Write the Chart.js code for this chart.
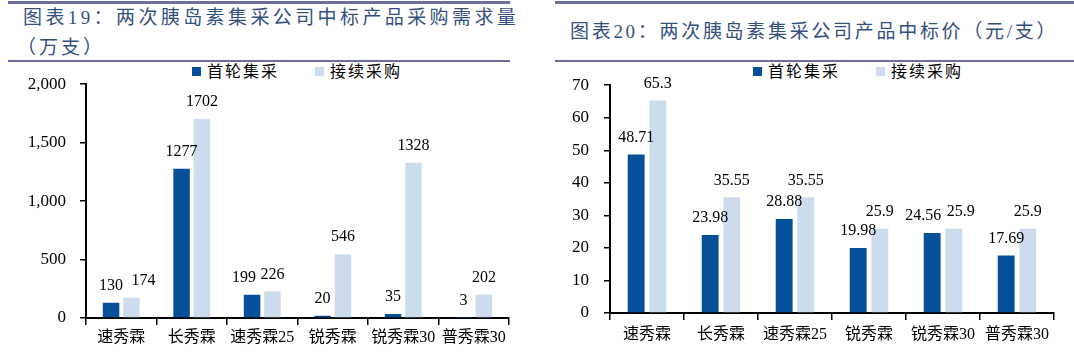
<!DOCTYPE html>
<html>
<head>
<meta charset="utf-8">
<script src="https://cdn.jsdelivr.net/npm/chart.js@4"></script>
<style>
  html,body{margin:0;padding:0;background:#fff;}
  body{width:1074px;height:356px;position:relative;overflow:hidden;font-family:"Liberation Serif","Noto Sans CJK SC",serif;}
  .rule{position:absolute;background:#6e6e9e;}
  .title{position:absolute;color:#34507e;font-size:19px;white-space:nowrap;line-height:1;}
  .legend{position:absolute;font-size:16px;letter-spacing:2px;white-space:nowrap;line-height:1;color:#000;}
  .legend span.box{display:inline-block;width:9px;height:9px;vertical-align:middle;margin-right:6px;position:relative;top:-2px;}
  .chartbox{position:absolute;}
</style>
</head>
<body>
<div class="rule" style="left:8px;top:1px;width:502px;height:3px;"></div>
<div class="rule" style="left:8px;top:60px;width:502px;height:2px;"></div>
<div class="rule" style="left:555px;top:1px;width:519px;height:3px;"></div>
<div class="rule" style="left:555px;top:60px;width:519px;height:2px;"></div>

<div class="title" style="left:23px;top:8px;letter-spacing:3.4px;">图表19：两次胰岛素集采公司中标产品采购需求量</div>
<div class="title" style="left:17px;top:38px;letter-spacing:3px;">（万支）</div>
<div class="title" style="left:570px;top:22px;letter-spacing:2.7px;">图表20：两次胰岛素集采公司产品中标价（元/支）</div>

<div class="legend" id="legL" style="left:192px;top:64px;"></div>
<div class="legend" id="legR" style="left:753px;top:64px;"></div>

<div class="chartbox" style="left:0px;top:60px;width:520px;height:296px;"><canvas id="c1"></canvas></div>
<div class="chartbox" style="left:545px;top:60px;width:529px;height:296px;"><canvas id="c2"></canvas></div>

<script>
const categories = ['速秀霖','长秀霖','速秀霖25','锐秀霖','锐秀霖30','普秀霖30'];
const seriesNames = ['首轮集采','接续采购'];
const demandFirst = [130, 1277, 199, 20, 35, 3];
const demandRenewal = [174, 1702, 226, 546, 1328, 202];
const priceFirst = [48.71, 23.98, 28.88, 19.98, 24.56, 17.69];
const priceRenewal = [65.3, 35.55, 35.55, 25.9, 25.9, 25.9];
const demandTicks = [0, 500, 1000, 1500, 2000];
const priceTicks = [0, 10, 20, 30, 40, 50, 60, 70];

const COLORS = ['#06509a', '#cddcec'];
const SERIF = '"Liberation Serif", "Noto Sans CJK SC", serif';

function buildLegend(id){
  const el = document.getElementById(id);
  el.innerHTML = seriesNames.map((n,i)=>
    `<span style="margin-right:${i===0?36:0}px"><span class="box" style="background:${COLORS[i]}"></span>${n}</span>`).join('');
}
buildLegend('legL');
buildLegend('legR');

const valueLabels = {
  id: 'valueLabels',
  afterDatasetsDraw(chart, args, opts){
    const ctx = chart.ctx;
    ctx.save();
    ctx.font = opts.font;
    ctx.fillStyle = '#000';
    ctx.textAlign = 'center';
    ctx.textBaseline = 'middle';
    chart.data.datasets.forEach((ds, di) => {
      chart.getDatasetMeta(di).data.forEach((bar, i) => {
        const sh = (opts.shifts || []).find(s => s.d === di && s.i === i);
        const dx = sh ? sh.dx : 0;
        ctx.fillText(String(ds.data[i]), bar.x + dx, bar.y - opts.offset);
      });
    });
    ctx.restore();
  }
};

function makeChart(canvasId, first, renewal, ticks, cfg){
  const maxV = ticks[ticks.length-1];
  const step = ticks[1] - ticks[0];
  return new Chart(document.getElementById(canvasId), {
    type: 'bar',
    data: {
      labels: categories,
      datasets: [
        {label: seriesNames[0], data: first, backgroundColor: COLORS[0], borderWidth: 0},
        {label: seriesNames[1], data: renewal, backgroundColor: COLORS[1], borderWidth: 0}
      ]
    },
    options: {
      responsive: true,
      maintainAspectRatio: false,
      animation: false,
      categoryPercentage: cfg.catPct,
      barPercentage: cfg.barPct,
      layout: {padding: {top: cfg.padTop, right: cfg.padRight, left: 0, bottom: 0}},
      plugins: {
        legend: {display: false},
        tooltip: {enabled: false},
        valueLabels: {font: '16px ' + SERIF, offset: 17, shifts: cfg.shifts || []}
      },
      scales: {
        x: {
          grid: {drawOnChartArea: false, drawTicks: true, tickLength: 7, color: '#000', lineWidth: 1.5, offset: true},
          border: {color: '#000', width: 2},
          ticks: {color: '#000', font: {family: SERIF, size: 16}, padding: cfg.xPad, maxRotation: 0, autoSkip: false},
          afterFit(scale){ scale.height = cfg.xHeight; }
        },
        y: {
          min: 0, max: maxV,
          grid: {drawOnChartArea: false, drawTicks: true, tickLength: 6, color: '#000', lineWidth: 1.5},
          border: {color: '#000', width: 2},
          ticks: {
            stepSize: step, color: '#000', font: {family: SERIF, size: 17}, padding: cfg.yPad,
            callback: (v) => cfg.comma ? v.toLocaleString('en-US') : String(v)
          },
          afterFit(scale){ scale.width = cfg.yWidth; }
        }
      }
    },
    plugins: [valueLabels]
  });
}

makeChart('c1', demandFirst, demandRenewal, demandTicks, {
  catPct: 0.578, barPct: 0.81, padTop: 24, padRight: 11, xHeight: 38, yWidth: 86,
  xPad: 3, yPad: 14, comma: true,
  shifts: [{d: 0, i: 2, dx: -8}, {d: 1, i: 0, dx: 12}]
});
makeChart('c2', priceFirst, priceRenewal, priceTicks, {
  catPct: 0.585, barPct: 0.78, padTop: 24, padRight: 20, xHeight: 43, yWidth: 65,
  xPad: 5, yPad: 15, comma: false,
  shifts: [{d: 0, i: 4, dx: -9}, {d: 1, i: 4, dx: 7}]
});
</script>
</body>
</html>
